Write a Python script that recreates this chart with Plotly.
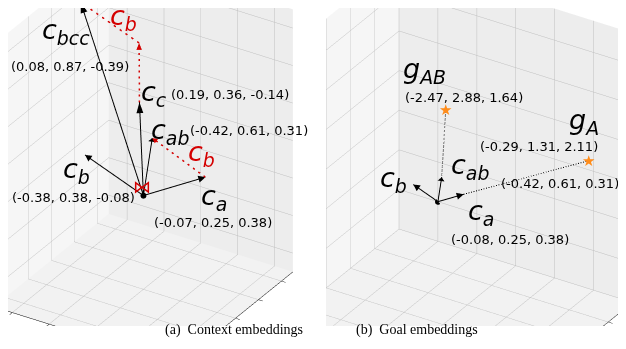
import numpy as np
import plotly.graph_objects as go

# ---------------- data ----------------
# (a) context embeddings  (x, y, z)
ctx_names = ["a", "b", "ab", "c", "bcc"]
ctx_x = [-0.07, -0.38, -0.42, 0.19, 0.08]
ctx_y = [0.25, 0.38, 0.61, 0.36, 0.87]
ctx_z = [0.38, -0.08, 0.31, -0.14, -0.39]

# (b) goal embeddings
gctx_names = ["a", "b", "ab"]
gctx_x = [-0.08, -0.38, -0.42]
gctx_y = [0.25, 0.38, 0.61]
gctx_z = [0.38, -0.08, 0.31]
goal_names = ["A", "AB"]
goal_x = [-0.29, -2.47]
goal_y = [1.31, 2.88]
goal_z = [2.11, 1.64]
goal_from = ["a", "ab"]          # dashed link from context vector tip to goal

# axis ranges (x, y, z)
ctx_range = ([-0.5, 0.5], [-0.5, 0.9], [-0.5, 0.5])
goal_range = ([-3.0, 0.0], [-0.5, 2.9], [-0.5, 2.5])
ctx_dtick = 0.2
goal_dtick = 0.5

# ---------------- helpers ----------------
RED = "#d40000"
ORANGE = "#ff8c1a"
FONT = "DejaVu Sans"
DIR = np.array([0.457, -0.733, 0.504])   # towards the viewer (scene axes)
RIGHT = np.array([0.848, 0.529, 0.0])
UP = np.array([-0.259, 0.432, 0.864])
PX = 156.0                                # pixels per world unit (orthographic)


def S(v):
    """data (x, y, z) -> scene axes (x<-z, y<-x, z<-y : y is the vertical one)"""
    return np.array([v[2], v[0], v[1]], float)


def vec(xs, ys, zs, names):
    return {n: np.array([x, y, z]) for n, x, y, z in zip(names, xs, ys, zs)}


def line(p, q, color, width, dash, scene):
    a, b = S(p), S(q)
    return go.Scatter3d(x=[a[0], b[0]], y=[a[1], b[1]], z=[a[2], b[2]],
                        mode="lines", line=dict(color=color, width=width, dash=dash),
                        hoverinfo="skip", showlegend=False, scene=scene)


def head(p, q, color, length, scene):
    a, t = S(p), S(q)
    d = (t - a) / np.linalg.norm(t - a)
    n = np.cross(d, DIR)
    n = n / np.linalg.norm(n)
    b = t - d * length
    w = length * 0.32
    pts = np.array([t, b + n * w, b - n * w])
    return go.Mesh3d(x=pts[:, 0], y=pts[:, 1], z=pts[:, 2], i=[0], j=[1], k=[2],
                     color=color, flatshading=True,
                     lighting=dict(ambient=1, diffuse=0, specular=0, roughness=1, fresnel=0),
                     hoverinfo="skip", showscale=False, scene=scene)


def ann(v, text, dx, dy, size, color="black"):
    s = S(v)
    return dict(x=s[0], y=s[1], z=s[2], text=text, showarrow=False,
                xshift=dx, yshift=dy, xanchor="center", yanchor="middle",
                font=dict(family=FONT, size=size, color=color))


def coord(v):
    return "(%.2f, %.2f, %.2f)" % tuple(v)


def big(sym, sub):
    return "<i>%s<sub>%s</sub></i>" % (sym, sub)


def dot(scene):
    o = S(np.zeros(3))
    return go.Scatter3d(x=[o[0]], y=[o[1]], z=[o[2]], mode="markers",
                        marker=dict(size=3.5, color="black"), hoverinfo="skip",
                        showlegend=False, scene=scene)


traces = []
O = np.zeros(3)

# ---------------- panel (a) ----------------
C = vec(ctx_x, ctx_y, ctx_z, ctx_names)
ha = 0.05
for n in ctx_names:
    traces.append(line(O, C[n], "black", 2, "solid", "scene"))
    traces.append(head(O, C[n], "black", ha, "scene"))
corner = C["bcc"] - C["b"]
for p, q in [(C["a"], C["ab"]), (C["c"], corner), (corner, C["bcc"])]:
    traces.append(line(p, q, RED, 3, "longdash", "scene"))
    traces.append(head(p, q, RED, ha * 0.8, "scene"))
traces.append(dot("scene"))

ann_a = [
    ann(C["bcc"], big("c", "bcc"), -15, -29, 27),
    ann(C["bcc"], coord(C["bcc"]), -11, -64, 13),
    ann(C["c"], big("c", "c"), 15, 9, 27),
    ann(C["c"], coord(C["c"]), 91, 8, 13),
    ann(C["ab"], big("c", "ab"), 18, 6, 27),
    ann(C["ab"], coord(C["ab"]), 97, 7, 13),
    ann(C["b"], big("c", "b"), -8, -16, 27),
    ann(C["b"], coord(C["b"]), -11, -43, 13),
    ann(C["a"], big("c", "a"), 9, -21, 27),
    ann(C["a"], coord(C["a"]), 8, -46, 13),
    ann((C["a"] + C["ab"]) / 2, big("c", "b"), 23, 4, 27, RED),
    ann((corner + C["bcc"]) / 2, big("c", "b"), 14, 5, 27, RED),
    ann(O, "⋈", -1, 9, 18, RED),
]

# ---------------- panel (b) ----------------
G = vec(gctx_x, gctx_y, gctx_z, gctx_names)
GG = vec(goal_x, goal_y, goal_z, goal_names)
hb = 0.12
for n in gctx_names:
    traces.append(line(O, G[n], "black", 2, "solid", "scene2"))
    traces.append(head(O, G[n], "black", hb, "scene2"))
for g, f in zip(goal_names, goal_from):
    traces.append(line(G[f], GG[g], "black", 2, "dash", "scene2"))
traces.append(dot("scene2"))

ann_b = [
    ann(G["ab"], big("c", "ab"), 28, 11, 27),
    ann(G["ab"], coord(G["ab"]), 118, -6, 13),
    ann(G["b"], big("c", "b"), -20, 5, 27),
    ann(G["a"], big("c", "a"), 17, -18, 27),
    ann(G["a"], coord(G["a"]), 46, -45, 13),
    ann(GG["AB"], big("g", "AB"), -21, 40, 27),
    ann(GG["AB"], coord(GG["AB"]), 18, 13, 13),
    ann(GG["A"], big("g", "A"), -4, 39, 27),
    ann(GG["A"], coord(GG["A"]), -49, 14, 13),
]
for g in goal_names:
    ann_b.append(ann(GG[g], "★", 0, 0, 15, ORANGE))


# ---------------- layout ----------------
def axis(rng, dt, bg):
    return dict(range=rng, dtick=dt, tick0=0, showticklabels=False, title=dict(text=""),
                showbackground=True, backgroundcolor=bg, gridcolor="#bfbfbf",
                gridwidth=1, zeroline=False, showspikes=False,
                showline=True, linecolor="black", linewidth=1,
                ticks="outside", ticklen=5, tickcolor="black")


def scene(rng, dt, dom, px_per_unit, shift):
    """px_per_unit: on-screen size of one data unit; shift: (right, up) pixels
    from the data origin to the middle of the scene viewport"""
    r = [rng[2], rng[0], rng[1]]
    k = px_per_unit / PX                       # world units per data unit
    ar = [(q[1] - q[0]) * k for q in r]
    mid = np.array([(q[0] + q[1]) / 2 for q in r])
    origin = -mid * k                          # data origin in world coords
    c = origin + (shift[0] * RIGHT + shift[1] * UP) / PX
    e = c + DIR * 4.0
    cam = dict(eye=dict(x=e[0], y=e[1], z=e[2]), center=dict(x=c[0], y=c[1], z=c[2]),
               up=dict(x=0, y=0, z=1), projection=dict(type="orthographic"))
    return dict(domain=dom,
                xaxis=axis(r[0], dt, "#f6f6f6"),
                yaxis=axis(r[1], dt, "#ededed"),
                zaxis=axis(r[2], dt, "#f2f2f2"),
                aspectmode="manual", aspectratio=dict(x=ar[0], y=ar[1], z=ar[2]),
                camera=cam, dragmode=False)


fig = go.Figure(traces)
fig.update_layout(
    width=626, height=349, margin=dict(l=0, r=0, t=0, b=0),
    paper_bgcolor="white", showlegend=False, hovermode=False,
    scene=scene(ctx_range, ctx_dtick, dict(x=[0, 0.495], y=[0.09, 1]), 213, (19, 28)),
    scene2=scene(goal_range, goal_dtick, dict(x=[0.508, 1], y=[0.09, 1]), 90, (41, 34)),
    annotations=[
        dict(x=0.2476, y=0.049, xref="paper", yref="paper", showarrow=False,
             text="(a)  Context embeddings",
             font=dict(family="Liberation Serif", size=14, color="black")),
        dict(x=0.754, y=0.049, xref="paper", yref="paper", showarrow=False,
             text="(b)  Goal embeddings",
             font=dict(family="Liberation Serif", size=14, color="black")),
    ],
)
fig.layout.scene.annotations = ann_a
fig.layout.scene2.annotations = ann_b
fig.write_html("out.html")
